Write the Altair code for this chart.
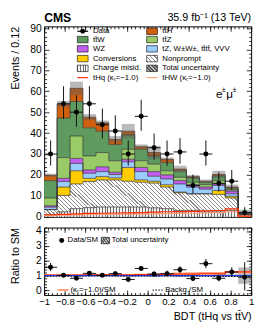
import altair as alt
import numpy as np
import pandas as pd

# ---------------- data ----------------
edges = [-1.0, -0.875, -0.75, -0.625, -0.5, -0.375, -0.25, -0.125, 0.0,
         0.125, 0.25, 0.375, 0.5, 0.625, 0.75, 0.875, 1.0]

charge_misid = [1.0, 2.4, 3.9, 4.4, 4.7, 4.7, 4.7, 4.7, 4.3, 3.9, 3.1, 3.1, 2.4, 2.4, 3.1, 0.4]
nonprompt = [2.4, 7.8, 11.8, 12.5, 12.9, 12.9, 12.3, 11.8, 11.8, 10.3, 8.4, 7.9, 8.6, 8.3, 5.9, 0.6]
conversions = [0.1, 4.0, 6.3, 1.5, 1.6, 1.0, 6.6, 1.1, 0.9, 1.1, 0.3, 0.0, 0.0, 1.9, 0.8, 0.1]
rare = [1.1, 2.7, 3.5, 2.4, 2.4, 1.6, 2.7, 4.0, 2.4, 2.8, 3.9, 3.2, 2.2, 2.4, 1.2, 0.2]
wz = [0.7, 1.5, 2.4, 1.6, 2.3, 1.1, 1.2, 2.0, 2.2, 1.9, 1.6, 1.1, 1.0, 0.7, 1.3, 0.1]
ttz = [3.7, 9.9, 10.7, 6.7, 6.8, 5.5, 4.8, 3.2, 3.6, 2.0, 1.6, 1.2, 1.2, 1.6, 0.6, 0.2]
ttw = [8.3, 18.9, 16.5, 13.4, 10.2, 7.8, 6.8, 5.5, 3.9, 4.0, 3.1, 2.1, 1.1, 2.2, 0.8, 0.4]
tth = [2.5, 6.7, 6.3, 5.1, 4.0, 2.4, 1.8, 1.2, 1.6, 1.5, 0.8, 0.6, 0.5, 0.7, 0.5, 0.2]
tot_unc = [0.8, 1.5, 3.2, 1.5, 1.1, 1.6, 3.5, 1.1, 3.2, 0.8, 1.6, 0.8, 0.8, 1.8, 1.2, 1.2]

thq = [1.0, 1.2, 1.4, 1.6, 1.7, 1.8, 1.9, 2.0, 2.2, 2.4, 2.5, 2.6, 2.8, 3.0, 3.8, 0.3]
thw = [0.6, 0.8, 0.9, 1.0, 1.1, 1.1, 1.2, 1.3, 1.4, 1.5, 1.6, 1.7, 1.8, 2.0, 2.5, 0.2]

data_n = [30, 54, 50, 54, 44, 41, 30, 48, 33, 30, 31, 15, 30, 16, 17, 2]
data_lo = [24.5, 46.7, 43.0, 46.7, 37.4, 34.6, 24.5, 41.1, 27.3, 24.5, 25.4, 11.1, 24.5, 12.0, 12.9, 0.7]
data_hi = [36.5, 62.4, 58.1, 62.4, 51.7, 48.5, 36.5, 55.9, 39.8, 36.5, 37.6, 20.2, 36.5, 21.3, 22.4, 4.6]

ratio = [1.56, 1.02, 0.82, 1.15, 1.02, 1.13, 0.74, 1.48, 1.10, 1.13, 1.39, 0.80, 1.80, 0.82, 1.24, 0.89]
ratio_lo = [1.30, 0.89, 0.70, 1.02, 0.89, 0.99, 0.62, 1.32, 0.94, 0.94, 1.17, 0.62, 1.50, 0.62, 0.95, 0.00]
ratio_hi = [1.85, 1.16, 0.95, 1.29, 1.16, 1.28, 0.88, 1.65, 1.27, 1.33, 1.62, 1.05, 2.12, 1.07, 1.56, 1.90]
ratio_unc = [0.05, 0.04, 0.06, 0.05, 0.04, 0.06, 0.08, 0.05, 0.10, 0.04, 0.07, 0.05, 0.05, 0.09, 0.09, 0.55]
ratio_kt_red = [1.04, 1.04, 1.04, 1.05, 1.05, 1.05, 1.05, 1.06, 1.07, 1.08, 1.10, 1.10, 1.12, 1.12, 1.25, 1.25]
ratio_kt_salmon = [1.02, 1.02, 1.03, 1.03, 1.03, 1.04, 1.04, 1.05, 1.08, 1.10, 1.15, 1.16, 1.18, 1.18, 1.22, 1.22]
ratio_bkg = [0.96, 0.96, 0.96, 0.97, 0.97, 0.97, 0.97, 0.97, 0.97, 0.97, 0.96, 0.96, 0.95, 0.95, 0.94, 0.95]

y_major = [0, 10, 20, 30, 40, 50, 60, 70, 80, 90]
x_major = [-1, -0.8, -0.6, -0.4, -0.2, 0, 0.2, 0.4, 0.6, 0.8, 1]
r_major = [0, 1, 2, 3, 4]
y_minor = [v for v in range(0, 91, 2) if v % 10 != 0]
x_minor = [round(-1 + 0.04 * i, 2) for i in range(51)]
r_minor = [round(-0.2 + 0.2 * i, 1) for i in range(23)]

# ---------------- styling ----------------
FONT = "Liberation Sans"
W, H1, H2 = 212, 195, 69
C_TTH = "#d0600e"
C_TTW = "#5f9a5f"
C_TTZ = "#99cc66"
C_WZ = "#c45ef0"
C_RARE = "#99ccff"
C_CONV = "#ffcc00"
C_THQ = "#ff2a00"
C_THW = "#ff9f7a"

xs = alt.Scale(domain=[-1, 1], nice=False, zero=False)
ys = alt.Scale(domain=[0, 91], nice=False, zero=False)
rs = alt.Scale(domain=[-0.3, 4.23], nice=False, zero=False)


def stripe_grad(n, dark, light, frac, x1, y1, x2, y2):
    stops = []
    for i in range(n):
        a = round(i / n, 5)
        b = round((i + frac) / n, 5)
        c = round((i + 1) / n, 5)
        stops += [alt.GradientStop(offset=a, color=dark), alt.GradientStop(offset=b, color=dark),
                  alt.GradientStop(offset=b, color=light), alt.GradientStop(offset=c, color=light)]
    return alt.LinearGradient(gradient="linear", stops=stops, x1=x1, y1=y1, x2=x2, y2=y2)


G_NONPROMPT = stripe_grad(62, "#8c8c8c", "#ffffff", 0.28, 0, 1, 1.14, 0.80)
G_CHARGE = stripe_grad(72, "#6e6e6e", "#f4f4f4", 0.38, 0, 0, 1, 0)
G_NONPROMPT_LEG = stripe_grad(4, "#8c8c8c", "#ffffff", 0.3, 0, 1, 1.18, 0.30)
G_CHARGE_LEG = stripe_grad(4, "#6e6e6e", "#f4f4f4", 0.4, 0, 0, 1, 0)
G_UNC_LEG = stripe_grad(5, "#555555", "#bbbbbb", 0.5, 0, 1, 1.18, 0.30)

# ---------------- tables ----------------
procs = [("charge", charge_misid, G_CHARGE), ("nonprompt", nonprompt, G_NONPROMPT),
         ("conv", conversions, C_CONV), ("rare", rare, C_RARE), ("wz", wz, C_WZ),
         ("ttz", ttz, C_TTZ), ("ttw", ttw, C_TTW), ("tth", tth, C_TTH)]
rows = []
cum = np.zeros(16)
for name, vals, _ in procs:
    v = np.array(vals, dtype=float)
    lo, hi = cum.copy(), cum + v
    for i in range(16):
        rows.append(dict(proc=name, x=edges[i], lo=lo[i], hi=hi[i]))
    rows.append(dict(proc=name, x=edges[16], lo=lo[15], hi=hi[15]))
    cum = hi
stack = pd.DataFrame(rows)
total = cum

bins = pd.DataFrame({
    "xl": edges[:-1], "xr": edges[1:],
    "xc": [(a + b) / 2 for a, b in zip(edges[:-1], edges[1:])],
    "n": data_n, "elo": data_lo, "ehi": data_hi,
    "ulo": total - np.array(tot_unc), "uhi": total + np.array(tot_unc),
    "r": ratio, "rlo": ratio_lo, "rhi": ratio_hi,
    "rulo": 1 - np.array(ratio_unc), "ruhi": 1 + np.array(ratio_unc),
})
steps = pd.DataFrame({
    "x": edges,
    "thq": thq + [thq[-1]], "thw": thw + [thw[-1]],
    "kr": ratio_kt_red + [ratio_kt_red[-1]],
    "ks": ratio_kt_salmon + [ratio_kt_salmon[-1]],
    "bk": ratio_bkg + [ratio_bkg[-1]],
})

X = lambda f: alt.X(f, scale=xs, axis=None, title=None)
Y = lambda f: alt.Y(f, scale=ys, axis=None, title=None)
R = lambda f: alt.Y(f, scale=rs, axis=None, title=None)
PX = lambda f: alt.X(f, scale=None, axis=None, title=None)
PY = lambda f: alt.Y(f, scale=None, axis=None, title=None)


def axis(orient, values, size, labels=False, **kw):
    return alt.Axis(orient=orient, values=values, tickSize=size, offset=-size, labels=labels,
                    domain=False, grid=False, ticks=True, tickColor="black", tickWidth=0.8,
                    labelOverlap=False, labelFlush=False, labelBound=False, **kw)


def axis_layers(yscale, ymaj, ymin, ytitle, xlabels, xtitle, ylabfmt):
    one = pd.DataFrame({"x": [0.0], "y": [ymaj[0]]})
    specs = [
        (axis("bottom", x_major, 5, labels=xlabels, format="~g", labelFontSize=9.8, labelPadding=2,
              titleFontSize=11, titleAnchor="end", titlePadding=4, titleFontWeight="normal") if xlabels
         else axis("bottom", x_major, 5),
         axis("left", ymaj, 5, labels=True, format=ylabfmt, labelFontSize=10.5, labelPadding=3,
              titleFontSize=11, titleAnchor="end", titleX=-34.5, titleBaseline="middle",
              titleFontWeight="normal")),
        (axis("top", x_major, 5), axis("right", ymaj, 5)),
        (axis("bottom", x_minor, 2.5), axis("left", ymin, 2.5)),
        (axis("top", x_minor, 2.5), axis("right", ymin, 2.5)),
    ]
    out = []
    for k, (ax_x, ax_y) in enumerate(specs):
        out.append(alt.Chart(one).mark_point(opacity=0).encode(
            x=alt.X("x:Q", scale=xs, axis=ax_x, title=(xtitle if (k == 0 and xtitle) else None)),
            y=alt.Y("y:Q", scale=yscale, axis=ax_y, title=(ytitle if k == 0 else None)),
        ))
    return out


# ---------------- top panel ----------------
top_layers = []
for name, _, fill in procs:
    top_layers.append(
        alt.Chart(stack).transform_filter(alt.datum.proc == name)
        .mark_area(interpolate="step-after", fill=fill, opacity=1)
        .encode(x=X("x:Q"), y=Y("lo:Q"), y2="hi:Q"))
top_layers.append(alt.Chart(stack).mark_line(interpolate="step-after", color="#333333", strokeWidth=0.7)
                  .encode(x=X("x:Q"), y=Y("hi:Q"), detail="proc:N"))
top_layers.append(alt.Chart(bins).mark_rect(fill="#5a5a5a", opacity=0.42)
                  .encode(x=X("xl:Q"), x2="xr:Q", y=Y("ulo:Q"), y2="uhi:Q"))
top_layers.append(alt.Chart(steps).mark_line(interpolate="step-after", color=C_THW, strokeWidth=1.2)
                  .encode(x=X("x:Q"), y=Y("thw:Q")))
top_layers.append(alt.Chart(steps).mark_line(interpolate="step-after", color=C_THQ, strokeWidth=1.2)
                  .encode(x=X("x:Q"), y=Y("thq:Q")))
top_layers.append(alt.Chart(bins).mark_rule(color="#111111", strokeWidth=1)
                  .encode(x=X("xc:Q"), y=Y("elo:Q"), y2="ehi:Q"))
top_layers.append(alt.Chart(bins).mark_rule(color="#111111", strokeWidth=1)
                  .encode(x=X("xl:Q"), x2="xr:Q", y=Y("n:Q")))
top_layers.append(alt.Chart(bins).mark_circle(size=26, color="black", opacity=1)
                  .encode(x=X("xc:Q"), y=Y("n:Q")))

# legend (pixel layout inside plot area)
colx = [34, 105]
labx = [50, 121]
rowy = [5, 13.5, 23, 33, 43, 52.5]
leg_labels = pd.DataFrame([
    dict(c=0, r=0, t="Data"), dict(c=1, r=0, t="tt\u0304H"),
    dict(c=0, r=1, t="tt\u0304W"), dict(c=1, r=1, t="tt\u0304Z"),
    dict(c=0, r=2, t="WZ"), dict(c=1, r=2, t="tZ, W\u00b1W\u00b1, tt\u0304tt\u0304, VVV"),
    dict(c=0, r=3, t="Conversions"), dict(c=1, r=3, t="Nonprompt"),
    dict(c=0, r=4, t="Charge misid."), dict(c=1, r=4, t="Total uncertainty"),
    dict(c=0, r=5, t="tHq (\u03ba\u209c=\u22121.0)"), dict(c=1, r=5, t="tHW (\u03ba\u209c=\u22121.0)"),
])
leg_labels["tx"] = [labx[c] for c in leg_labels.c]
leg_labels["ty"] = [rowy[r] for r in leg_labels.r]
top_layers.append(alt.Chart(leg_labels).mark_text(align="left", baseline="middle", fontSize=8, font=FONT,
                                                   color="black")
                  .encode(x=PX("tx:Q"), y=PY("ty:Q"), text="t:N"))


def box_df(items):
    return pd.DataFrame([dict(x1=colx[c], x2=colx[c] + 11, y1=rowy[r] - 3.3, y2=rowy[r] + 3.3, f=f)
                         for c, r, f in items])


solid_boxes = box_df([(1, 0, C_TTH), (0, 1, C_TTW), (1, 1, C_TTZ), (0, 2, C_WZ), (1, 2, C_RARE),
                      (0, 3, C_CONV)])
top_layers.append(alt.Chart(solid_boxes).mark_rect(stroke="black", strokeWidth=0.6)
                  .encode(x=PX("x1:Q"), x2="x2:Q", y=PY("y1:Q"), y2="y2:Q", fill=alt.Fill("f:N", scale=None)))
for c, r, g in [(1, 3, G_NONPROMPT_LEG), (0, 4, G_CHARGE_LEG), (1, 4, G_UNC_LEG)]:
    top_layers.append(alt.Chart(box_df([(c, r, "x")])).mark_rect(fill=g, stroke="black", strokeWidth=0.6)
                      .encode(x=PX("x1:Q"), x2="x2:Q", y=PY("y1:Q"), y2="y2:Q"))
leg_lines = pd.DataFrame([dict(x1=colx[0], x2=colx[0] + 11, y=rowy[0], col="black"),
                          dict(x1=colx[0], x2=colx[0] + 11, y=rowy[5], col=C_THQ),
                          dict(x1=colx[1], x2=colx[1] + 11, y=rowy[5], col=C_THW)])
top_layers.append(alt.Chart(leg_lines).mark_rule(strokeWidth=1.2)
                  .encode(x=PX("x1:Q"), x2="x2:Q", y=PY("y:Q"), color=alt.Color("col:N", scale=None)))
top_layers.append(alt.Chart(pd.DataFrame({"x": [colx[0] + 5.5], "y": [rowy[0]]}))
                  .mark_circle(size=26, color="black", opacity=1).encode(x=PX("x:Q"), y=PY("y:Q")))

# annotations
annot = pd.DataFrame([
    dict(x=0, y=-8, t="CMS", s=12.5, w="bold", a="left"),
    dict(x=W, y=-8, t="35.9 fb\u207b\u00b9 (13 TeV)", s=11, w="normal", a="right"),
])
for _, rw in annot.iterrows():
    top_layers.append(alt.Chart(pd.DataFrame([rw])).mark_text(
        align=rw.a, baseline="middle", fontSize=float(rw.s), fontWeight=rw.w, font=FONT, color="black")
        .encode(x=PX("x:Q"), y=PY("y:Q"), text="t:N"))
chan = pd.DataFrame([dict(x=176, y=69, t="e", s=12), dict(x=182, y=65.5, t="\u00b1", s=7.5),
                     dict(x=186.5, y=69, t="\u03bc", s=12), dict(x=193, y=65.5, t="\u00b1", s=7.5)])
for _, rw in chan.iterrows():
    top_layers.append(alt.Chart(pd.DataFrame([rw])).mark_text(
        align="left", baseline="middle", fontSize=float(rw.s), font=FONT, color="black")
        .encode(x=PX("x:Q"), y=PY("y:Q"), text="t:N"))

top_layers += axis_layers(ys, y_major, y_minor, "Events / 0.12", False, None, "d")
top = alt.layer(*top_layers).properties(width=W, height=H1).resolve_axis(x="independent", y="independent")

# ---------------- ratio panel ----------------
bot_layers = []
bot_layers.append(alt.Chart(bins).mark_rect(fill="#8a8a8a", opacity=0.6)
                  .encode(x=X("xl:Q"), x2="xr:Q", y=R("rulo:Q"), y2="ruhi:Q"))
bot_layers.append(alt.Chart(steps).mark_line(interpolate="step-after", color=C_THW, strokeWidth=2)
                  .encode(x=X("x:Q"), y=R("ks:Q")))
bot_layers.append(alt.Chart(steps).mark_line(interpolate="step-after", color=C_THQ, strokeWidth=1.2)
                  .encode(x=X("x:Q"), y=R("kr:Q")))
bot_layers.append(alt.Chart(pd.DataFrame({"one": [1.0]})).mark_rule(color="#1f3cff", strokeWidth=1.4)
                  .encode(y=R("one:Q")))
bot_layers.append(alt.Chart(steps).mark_line(interpolate="step-after", color="black", strokeWidth=1,
                                             strokeDash=[1.5, 1.5])
                  .encode(x=X("x:Q"), y=R("bk:Q")))
bot_layers.append(alt.Chart(bins).mark_rule(color="#111111", strokeWidth=1)
                  .encode(x=X("xc:Q"), y=R("rlo:Q"), y2="rhi:Q"))
bot_layers.append(alt.Chart(bins).mark_rule(color="#111111", strokeWidth=1)
                  .encode(x=X("xl:Q"), x2="xr:Q", y=R("r:Q")))
bot_layers.append(alt.Chart(bins).mark_circle(size=26, color="black", opacity=1)
                  .encode(x=X("xc:Q"), y=R("r:Q")))
# ratio legend
rleg_text = pd.DataFrame([dict(x=24, y=13.3, t="Data/SM"), dict(x=69, y=13.3, t="Total uncertainty"),
                          dict(x=27, y=64, t="(\u03ba\u209c=\u22121.0)/SM"), dict(x=124, y=64, t="Backg./SM")])
bot_layers.append(alt.Chart(rleg_text).mark_text(align="left", baseline="middle", fontSize=8, font=FONT,
                                                 color="black")
                  .encode(x=PX("x:Q"), y=PY("y:Q"), text="t:N"))
bot_layers.append(alt.Chart(pd.DataFrame({"x": [18], "y": [13.3]}))
                  .mark_circle(size=26, color="black", opacity=1).encode(x=PX("x:Q"), y=PY("y:Q")))
bot_layers.append(alt.Chart(pd.DataFrame({"x1": [58.5], "x2": [67], "y1": [10], "y2": [16.6]}))
                  .mark_rect(fill=G_UNC_LEG, stroke="black", strokeWidth=0.6)
                  .encode(x=PX("x1:Q"), x2="x2:Q", y=PY("y1:Q"), y2="y2:Q"))
bot_layers.append(alt.Chart(pd.DataFrame({"x1": [14], "x2": [25], "y": [64]}))
                  .mark_rule(color=C_THW, strokeWidth=2).encode(x=PX("x1:Q"), x2="x2:Q", y=PY("y:Q")))
bot_layers.append(alt.Chart(pd.DataFrame({"x1": [111], "x2": [122], "y": [64]}))
                  .mark_rule(color="black", strokeWidth=1, strokeDash=[1.5, 1.5])
                  .encode(x=PX("x1:Q"), x2="x2:Q", y=PY("y:Q")))

bot_layers += axis_layers(rs, r_major, r_minor, "Ratio to SM", True, "BDT (tHq vs tt\u0304V)", "d")
bottom = alt.layer(*bot_layers).properties(width=W, height=H2).resolve_axis(x="independent", y="independent")

chart = (alt.vconcat(top, bottom, spacing=3)
         .properties(padding={"left": 0, "top": 0, "right": 2, "bottom": 0})
         .configure(font=FONT)
         .configure_view(stroke="black", strokeWidth=1)
         .configure_axis(labelColor="black", titleColor="black", labelFont=FONT, titleFont=FONT))

chart.save("out.html", embed_options={"renderer": "svg", "actions": False})
